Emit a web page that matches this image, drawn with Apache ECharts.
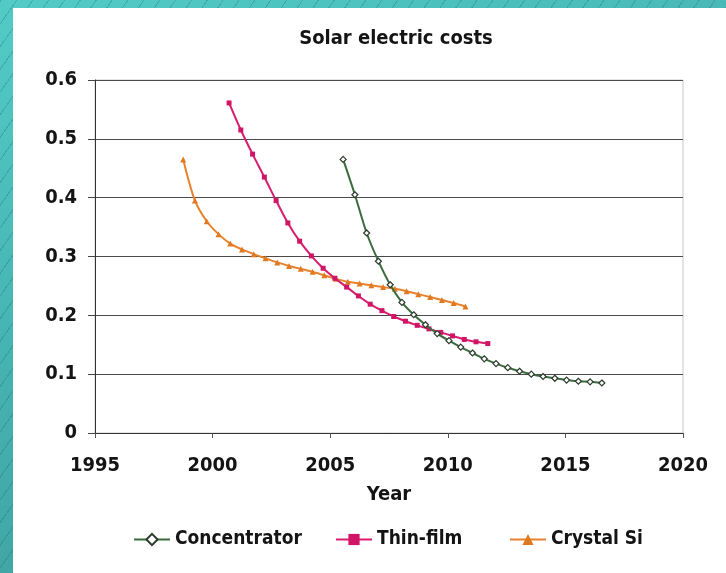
<!DOCTYPE html>
<html>
<head>
<meta charset="utf-8">
<script src="https://cdn.jsdelivr.net/npm/echarts@6/dist/echarts.min.js"></script>
<style>
  html, body { margin: 0; padding: 0; width: 726px; height: 573px; overflow: hidden; }
  body {
    background:
      repeating-linear-gradient(-55deg, rgba(20,80,80,0) 0px, rgba(20,80,80,0) 12px, rgba(25,95,95,0.28) 12px, rgba(25,95,95,0.28) 13px),
      linear-gradient(160deg, #52cbc7 0%, #45b2b0 45%, #3b9896 100%);
  }
  #panel { position: absolute; left: 13px; top: 8px; right: 0; bottom: 0; background: #ffffff; }
  #chart { position: absolute; left: 0; top: 0; width: 726px; height: 573px; }
</style>
</head>
<body>
<div id="panel"></div>
<div id="chart"></div>
<script>
// Solar electric cost trajectories ($/kWh) by technology
const yTicks = [0, 0.1, 0.2, 0.3, 0.4, 0.5, 0.6];
const xTicks = [1995, 2000, 2005, 2010, 2015, 2020];

const concentratorYears = [2005.55, 2006.05, 2006.55, 2007.05, 2007.55, 2008.05, 2008.55, 2009.05, 2009.55, 2010.05, 2010.55, 2011.05, 2011.55, 2012.05, 2012.55, 2013.05, 2013.55, 2014.05, 2014.55, 2015.05, 2015.55, 2016.05, 2016.55];
const concentratorCost = [0.465, 0.405, 0.340, 0.292, 0.252, 0.222, 0.201, 0.184, 0.169, 0.157, 0.146, 0.136, 0.126, 0.118, 0.111, 0.105, 0.100, 0.096, 0.093, 0.090, 0.088, 0.087, 0.085];

const thinFilmYears = [2000.7, 2001.2, 2001.7, 2002.2, 2002.7, 2003.2, 2003.7, 2004.2, 2004.7, 2005.2, 2005.7, 2006.2, 2006.7, 2007.2, 2007.7, 2008.2, 2008.7, 2009.2, 2009.7, 2010.2, 2010.7, 2011.2, 2011.7];
const thinFilmCost = [0.561, 0.515, 0.474, 0.435, 0.395, 0.357, 0.326, 0.301, 0.280, 0.263, 0.248, 0.233, 0.219, 0.208, 0.198, 0.190, 0.183, 0.177, 0.171, 0.165, 0.159, 0.155, 0.152];

const crystalSiYears = [1998.75, 1999.25, 1999.75, 2000.25, 2000.75, 2001.25, 2001.75, 2002.25, 2002.75, 2003.25, 2003.75, 2004.25, 2004.75, 2005.25, 2005.75, 2006.25, 2006.75, 2007.25, 2007.75, 2008.25, 2008.75, 2009.25, 2009.75, 2010.25, 2010.75];
const crystalSiCost = [0.465, 0.395, 0.360, 0.338, 0.322, 0.312, 0.304, 0.297, 0.290, 0.284, 0.279, 0.274, 0.268, 0.262, 0.257, 0.254, 0.251, 0.248, 0.245, 0.241, 0.236, 0.231, 0.226, 0.221, 0.215];

const pairs = (xs, ys) => xs.map((x, i) => [x, ys[i]]);

const FONT = "'Liberation Sans Narrow', 'DejaVu Sans Condensed', 'Roboto Condensed', sans-serif";
const TEXT = '#141414';

const legendText = { fontFamily: FONT, fontWeight: 'bold', fontSize: 19, color: TEXT };
const legendBase = { top: 525, itemGap: 0, itemWidth: 36, itemHeight: 14, textStyle: legendText };

const chart = echarts.init(document.getElementById('chart'), null, { renderer: 'canvas' });
chart.setOption({
  animation: false,
  backgroundColor: 'transparent',
  title: {
    text: 'Solar electric costs',
    left: 391, top: 24, textAlign: 'center',
    textStyle: { fontFamily: FONT, fontWeight: 'bold', fontSize: 20, color: TEXT }
  },
  grid: {
    left: 95, right: 43, top: 80, bottom: 140,
    show: true, borderColor: '#c8c8c8', borderWidth: 1, backgroundColor: 'transparent'
  },
  xAxis: {
    type: 'value', min: xTicks[0], max: xTicks[xTicks.length - 1], interval: 5,
    name: 'Year', nameLocation: 'middle', nameGap: 52,
    nameTextStyle: { fontFamily: FONT, fontWeight: 'bold', fontSize: 20, color: TEXT },
    axisLine: { lineStyle: { color: '#333', width: 1 } },
    axisTick: { show: true, inside: false, length: 5, lineStyle: { color: '#555' } },
    axisLabel: { margin: 23, fontFamily: FONT, fontWeight: 'bold', fontSize: 20, color: TEXT,
      formatter: v => String(v) },
    splitLine: { show: false }
  },
  yAxis: {
    type: 'value', min: yTicks[0], max: yTicks[yTicks.length - 1], interval: 0.1,
    axisLine: { show: true, lineStyle: { color: '#333', width: 1 } },
    axisTick: { show: true, inside: false, length: 7, lineStyle: { color: '#444' } },
    axisLabel: { margin: 18, fontFamily: FONT, fontWeight: 'bold', fontSize: 20, color: TEXT,
      formatter: v => (v === 0 ? '0' : v.toFixed(1)) },
    splitLine: { show: true, lineStyle: { color: '#4a4a4a', width: 1.2 } }
  },
  legend: [
    Object.assign({ left: 128, data: ['Concentrator'] }, legendBase),
    Object.assign({ left: 330, data: ['Thin-film'] }, legendBase),
    Object.assign({ left: 504, data: ['Crystal Si'] }, legendBase)
  ],
  series: [
    {
      name: 'Concentrator', type: 'line', data: pairs(concentratorYears, concentratorCost),
      smooth: 0.3, symbol: 'diamond', symbolSize: 6, showAllSymbol: true,
      lineStyle: { color: '#3c6b3e', width: 2 },
      itemStyle: { color: '#ffffff', borderColor: '#2b3a2b', borderWidth: 1.2 },
      z: 4
    },
    {
      name: 'Thin-film', type: 'line', data: pairs(thinFilmYears, thinFilmCost),
      smooth: 0.3, symbol: 'rect', symbolSize: 5, showAllSymbol: true,
      lineStyle: { color: '#d81c6e', width: 2 },
      itemStyle: { color: '#d01566', borderWidth: 0 },
      z: 3
    },
    {
      name: 'Crystal Si', type: 'line', data: pairs(crystalSiYears, crystalSiCost),
      smooth: 0.3, symbol: 'triangle', symbolSize: 6, showAllSymbol: true,
      lineStyle: { color: '#e8822c', width: 2 },
      itemStyle: { color: '#e07a22', borderWidth: 0 },
      z: 2
    }
  ]
});
</script>
</body>
</html>
